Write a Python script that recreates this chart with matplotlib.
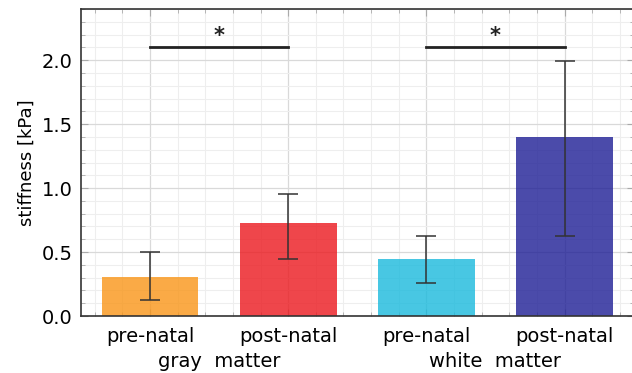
import matplotlib
matplotlib.use('Agg')
import matplotlib.pyplot as plt
import numpy as np
from matplotlib.ticker import MultipleLocator
from matplotlib.transforms import blended_transform_factory

# data
groups = ['pre-natal', 'post-natal', 'pre-natal', 'post-natal']
tissue = ['gray  matter', 'white  matter']
stiffness = [0.307, 0.724, 0.443, 1.396]
err_low = [0.122, 0.448, 0.260, 0.627]
err_high = [0.502, 0.955, 0.627, 1.990]
bar_colors = ['#F99518', '#EC181E', '#1ABADD', '#1E1E95']
sig_pairs = [(0, 1), (2, 3)]
sig_level = 2.1

plt.rcParams['font.family'] = 'DejaVu Sans'
plt.rcParams['font.size'] = 14

fig = plt.figure(figsize=(6.32, 3.73), dpi=100)
ax = fig.add_axes([81/632, 57/373, 552.6/632, 307/373])

x = np.arange(len(stiffness))
yerr = [np.array(stiffness) - np.array(err_low), np.array(err_high) - np.array(stiffness)]
ax.bar(x, stiffness, width=0.7, color=bar_colors, alpha=0.8, zorder=2)
ax.errorbar(x, stiffness, yerr=yerr, fmt='none', ecolor='#333333', elinewidth=1.1,
            capsize=7, capthick=1.1, zorder=3)

for a, b in sig_pairs:
    ax.plot([a, b], [sig_level, sig_level], color='#222222', lw=2, zorder=3)
    ax.text((a + b) / 2, sig_level + 0.01, '*', ha='center', va='bottom',
            fontsize=15, fontweight='bold', color='#222222')

ax.set_xlim(-0.5, 3.5)
ax.set_ylim(0, 2.4)
ax.set_xticks(x)
ax.set_xticklabels(groups)
ax.xaxis.set_minor_locator(MultipleLocator(0.2))
ax.yaxis.set_major_locator(MultipleLocator(0.5))
ax.yaxis.set_minor_locator(MultipleLocator(0.1))
ax.yaxis.set_major_formatter(matplotlib.ticker.FormatStrFormatter('%.1f'))
ax.set_ylabel('stiffness [kPa]', fontsize=13)

ax.grid(which='major', color='#d9d9d9', lw=0.9, zorder=0)
ax.grid(which='minor', color='#eeeeee', lw=0.8, zorder=0)
ax.set_axisbelow(True)
ax.tick_params(which='both', direction='in', top=True, right=True, color='#aaaaaa')
ax.tick_params(which='major', length=5, pad=8)
ax.tick_params(which='minor', length=3)
ax.tick_params(axis='y', pad=6)
for s in ['left', 'bottom', 'top']:
    ax.spines[s].set_color('#333333')
    ax.spines[s].set_linewidth(1.2)

trans = blended_transform_factory(ax.transData, ax.transAxes)
for i, name in enumerate(tissue):
    ax.text(2 * i + 0.5, -0.117, name, transform=trans, ha='center', va='top')

fig.savefig('out.png', dpi=100)
